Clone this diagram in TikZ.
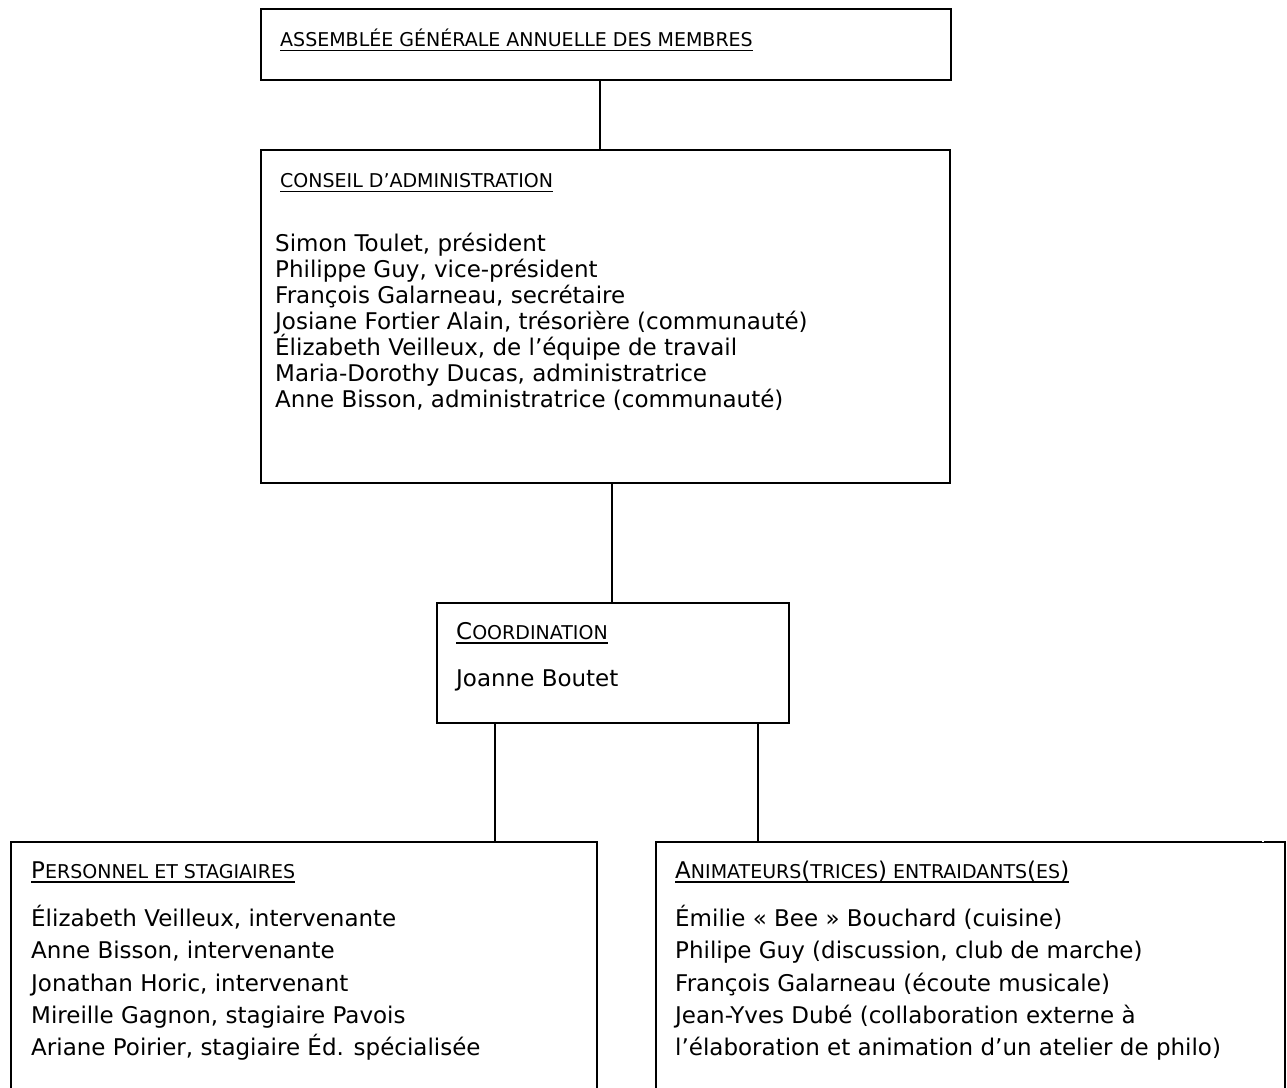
\documentclass[tikz,border=0pt]{standalone}
\usepackage{fontspec}
\setmainfont{DejaVu Sans}
\newcommand{\ulin}[1]{\setbox0=\hbox{#1}\rlap{\raisebox{-4.6pt}{\rule{\wd0}{1.3pt}}}\box0}
\newcommand{\hsc}{\fontsize{19}{22}\selectfont}
\newcommand{\hbig}{\fontsize{23}{26}\selectfont}
\tikzset{
  box/.style={draw=black, line width=1.7pt, rectangle, anchor=north west, inner sep=0pt},
  conn/.style={draw=black, line width=1.7pt},
  head/.style={anchor=base west, inner sep=0pt, font=\hsc},
  body/.style={anchor=base west, inner sep=0pt, font=\fontsize{23}{26}\selectfont},
}
\begin{document}
\begin{tikzpicture}[x=1pt,y=-1pt]
\useasboundingbox (0,0) rectangle (1287,1087);
\fill[white] (0,0) rectangle (1287,1087);
\clip (0,0) rectangle (1287,1087);

% boxes
\node[box, minimum width=690pt, minimum height=71pt] (A) at (260,8) {};
\node[box, minimum width=689pt, minimum height=333pt] (B) at (260,149) {};
\node[box, minimum width=352pt, minimum height=120pt] (C) at (436,602) {};
\node[box, minimum width=586pt, minimum height=300pt] (D) at (10,841) {};
\node[box, minimum width=629pt, minimum height=300pt] (E) at (655,841) {};
\draw[white, line width=2.4pt] ([xshift=-24pt]E.north east) -- ([xshift=-22pt]E.north east);

% connectors
\coordinate (x1) at (600,0);
\coordinate (x2) at (612,0);
\coordinate (x3) at (495,0);
\coordinate (x4) at (758,0);
\draw[conn] (A.south -| x1) -- (B.north -| x1);
\draw[conn] (B.south -| x2) -- (C.north -| x2);
\draw[conn] (C.south -| x3) -- (D.north -| x3);
\draw[conn] (C.south -| x4) -- (E.north -| x4);

% headings
\node[head] (hA) at (280,46.7) {\ulin{ASSEMBLÉE GÉNÉRALE ANNUELLE DES MEMBRES}};
\node[head] (hB) at (280,187.5) {\ulin{CONSEIL D’ADMINISTRATION}};
\node[head] (hC) at (456,639) {\ulin{{\hbig C}OORDINATION}};
\node[head] (hD) at (31,878) {\ulin{{\hbig P}ERSONNEL ET STAGIAIRES}};
\node[head] (hE) at (675,878) {\ulin{{\hbig A}NIMATEURS{\hbig (}TRICES{\hbig )} ENTRAIDANTS{\hbig (}ES{\hbig )}}};

% box B lines
\foreach \t [count=\i] in {
  {Simon Toulet, président},
  {Philippe Guy, vice-président},
  {François Galarneau, secrétaire},
  {Josiane Fortier Alain, trésorière (communauté)},
  {Élizabeth Veilleux, de l’équipe de travail},
  {Maria-Dorothy Ducas, administratrice},
  {Anne Bisson, administratrice (communauté)}}
  \node[body] (b\i) at (275,{251+26*(\i-1)}) {\t};

% box C
\node[body] (c1) at (456,686.7) {Joanne Boutet};

% box D lines
\foreach \t [count=\i] in {
  {Élizabeth Veilleux, intervenante},
  {Anne Bisson, intervenante},
  {Jonathan Horic, intervenant},
  {Mireille Gagnon, stagiaire Pavois},
  {Ariane Poirier, stagiaire Éd. spécialisée}}
  \node[body] (d\i) at (31,{926.7+32.2*(\i-1)}) {\t};

% box E lines
\foreach \t [count=\i] in {
  {Émilie « Bee » Bouchard (cuisine)},
  {Philipe Guy (discussion, club de marche)},
  {François Galarneau (écoute musicale)},
  {Jean-Yves Dubé (collaboration externe à},
  {l’élaboration et animation d’un atelier de philo)}}
  \node[body] (e\i) at (675,{926.7+32.2*(\i-1)}) {\t};
\end{tikzpicture}
\end{document}
